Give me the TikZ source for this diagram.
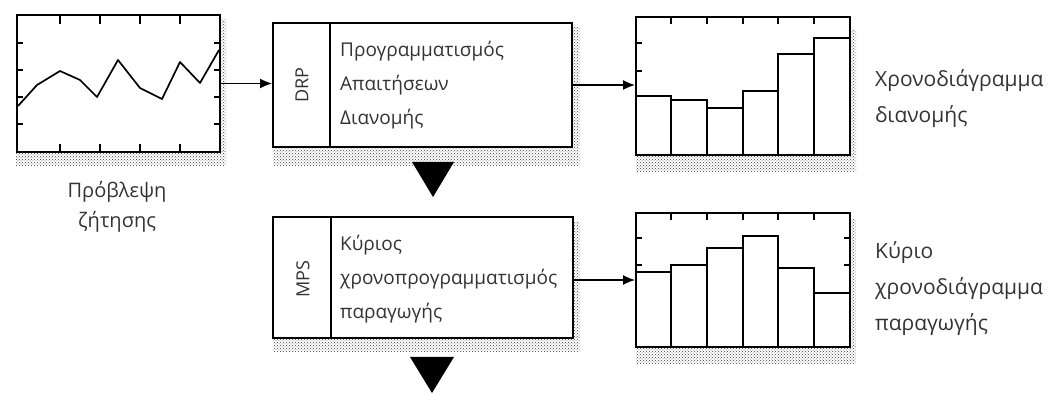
\documentclass[tikz,border=0pt]{standalone}
\usepackage{fontspec}
\setmainfont{Open Sans}
\usetikzlibrary{arrows.meta,patterns}
\begin{document}
\begin{tikzpicture}[x=1pt,y=-1pt,
  frame/.style={draw, line width=2pt, inner sep=0pt, fill=white},
  bar/.style={draw, line width=1.6pt},
  tick/.style={line width=1.5pt},
  shade/.style={pattern=crosshatch dots, pattern color=black!75},
  lbl/.style={font=\fontsize{21}{36}\selectfont, text=black!80, align=left, anchor=west, inner sep=0pt},
  boxtext/.style={font=\fontsize{19}{34}\selectfont, text=black!80, align=left, anchor=west, inner sep=0pt},
  side/.style={font=\fontsize{18}{20}\selectfont, text=black!80, rotate=90, inner sep=0pt},
  flow/.style={line width=1.3pt, -{Latex[length=12pt,width=10pt]}},
  drop/.style={fill=black}]
\useasboundingbox (0,0) rectangle (1061,395);

% ---------- stippled shadows ----------
\fill[shade] (16,152) rectangle (226,166);
\fill[shade] (219,20) rectangle (226,152);
\fill[shade] (273,147) rectangle (580,166);
\fill[shade] (572,28) rectangle (580,147);
\fill[shade] (273,338) rectangle (580,352);
\fill[shade] (573,222) rectangle (580,338);
\fill[shade] (636,155) rectangle (856,172);
\fill[shade] (850,30) rectangle (856,155);
\fill[shade] (636,347) rectangle (856,364);
\fill[shade] (850,220) rectangle (856,347);

% ---------- demand forecast chart ----------
\node[frame, minimum width=203pt, minimum height=137pt] (fc) at (118.5,83.5) {};
\foreach \x in {60,100,140,180} {
  \draw[tick] (\x,15) -- (\x,24);
  \draw[tick] (\x,152) -- (\x,144);
}
\foreach \y in {43,70,97,124} {
  \draw[tick] (17,\y) -- (23,\y);
  \draw[tick] (220,\y) -- (214,\y);
}
\draw[line width=1.7pt, line join=round]
  plot coordinates {(18,106) (37,85) (60,71) (80,80) (97,97) (118,60)
                    (140,88) (162,99) (180,62) (200,83) (219,50)};
\node[font=\fontsize{20}{30}\selectfont, text=black!80, align=center] (fcl) at (117,207)
  {Πρόβλεψη\\ζήτησης};

% ---------- DRP box ----------
\node[frame, minimum width=299pt, minimum height=124pt] (drp) at (422.5,85) {};
\draw[line width=1.6pt] (330,23) -- (330,147);
\node[side] (drpl) at (302,85) {DRP};
\node[boxtext] (drpt) at (340,85) {Προγραμματισμός\\Απαιτήσεων\\Διανομής};
\fill[drop] (412,162) -- (454,162) -- (433,197) -- cycle;

% ---------- MPS box ----------
\node[frame, minimum width=300pt, minimum height=121pt] (mps) at (423,277.5) {};
\draw[line width=1.6pt] (331,217) -- (331,338);
\node[side] (mpsl) at (303,279) {MPS};
\node[boxtext] (mpst) at (340,279) {Κύριος\\χρονοπρογραμματισμός\\παραγωγής};
\fill[drop] (410,357) -- (454,357) -- (432,393) -- cycle;

% ---------- distribution schedule chart ----------
\node[frame, minimum width=214pt, minimum height=138pt] (tc) at (743,86) {};
\foreach \xa/\xb/\t in {636/671/96, 671/707/100, 707/743/108, 743/778/91, 778/814/54, 814/850/38}
  \draw[bar] (\xa,\t) rectangle (\xb,155);
\foreach \x in {671,707,743,778,814} \draw[tick] (\x,17) -- (\x,24);
\foreach \y in {43,71} \draw[tick] (636,\y) -- (642,\y);
\node[lbl] (tcl) at (875,99) {Χρονοδιάγραμμα\\διανομής};

% ---------- master production schedule chart ----------
\node[frame, minimum width=214pt, minimum height=134pt] (bc) at (743,280) {};
\foreach \xa/\xb/\t in {636/671/272, 671/707/265, 707/743/248, 743/778/236, 778/814/268, 814/850/293}
  \draw[bar] (\xa,\t) rectangle (\xb,347);
\foreach \x in {671,707,743,778,814} \draw[tick] (\x,213) -- (\x,220);
\foreach \y in {238,265} {
  \draw[tick] (636,\y) -- (642,\y);
  \draw[tick] (850,\y) -- (844,\y);
}
\node[lbl] (bcl) at (875,289) {Κύριο\\χρονοδιάγραμμα\\παραγωγής};

% ---------- connectors ----------
\draw[flow] (fc.east) -- (fc.east -| drp.west);
\draw[flow] (drp.east) -- (drp.east -| tc.west);
\draw[flow] (mps.east |- bc.west) -- (bc.west);
\end{tikzpicture}
\end{document}
